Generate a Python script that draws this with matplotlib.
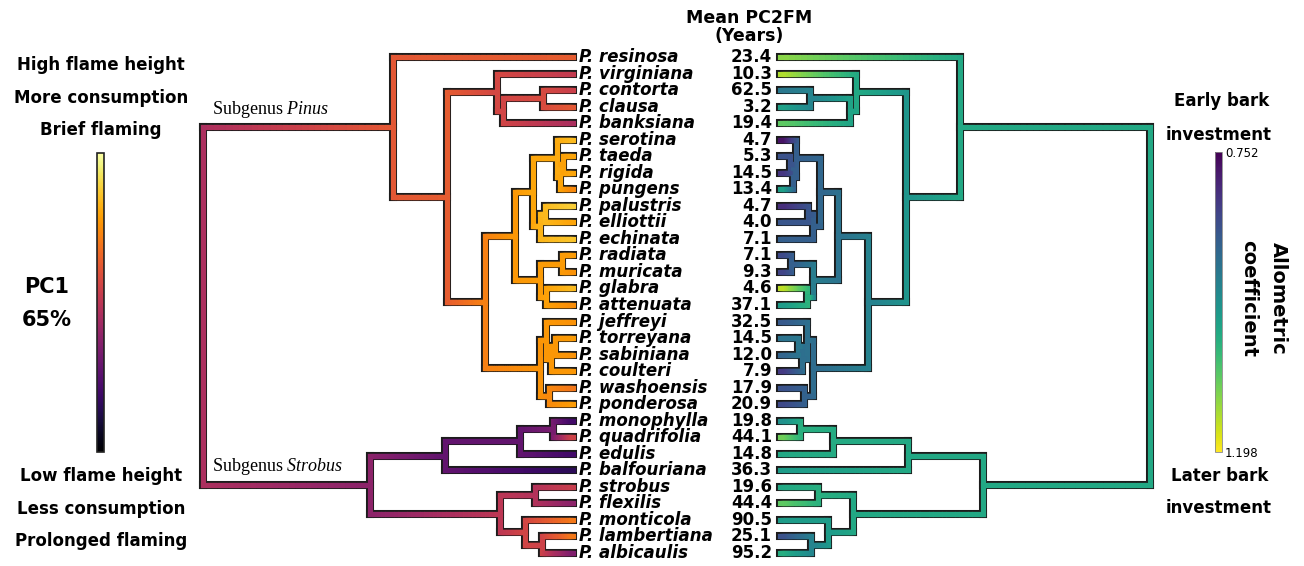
import numpy as np
import matplotlib.pyplot as plt
from matplotlib.collections import LineCollection
from matplotlib.colors import Normalize
from matplotlib.cm import ScalarMappable

plt.rcParams['mathtext.fontset'] = 'custom'
plt.rcParams['mathtext.rm'] = 'Liberation Serif'
plt.rcParams['mathtext.it'] = 'Liberation Serif:italic'

species = ['resinosa', 'virginiana', 'contorta', 'clausa', 'banksiana',
           'serotina', 'taeda', 'rigida', 'pungens', 'palustris', 'elliottii',
           'echinata', 'radiata', 'muricata', 'glabra', 'attenuata',
           'jeffreyi', 'torreyana', 'sabiniana', 'coulteri', 'washoensis',
           'ponderosa', 'monophylla', 'quadrifolia', 'edulis', 'balfouriana',
           'strobus', 'flexilis', 'monticola', 'lambertiana', 'albicaulis']

pc2fm = [23.4, 10.3, 62.5, 3.2, 19.4, 4.7, 5.3, 14.5, 13.4, 4.7, 4.0, 7.1,
         7.1, 9.3, 4.6, 37.1, 32.5, 14.5, 12.0, 7.9, 17.9, 20.9, 19.8, 44.1,
         14.8, 36.3, 19.6, 44.4, 90.5, 25.1, 95.2]

# PC1 scores, rescaled to 0-1
pc1 = [0.63, 0.52, 0.54, 0.62, 0.46, 0.84, 0.80, 0.80, 0.74, 0.88, 0.80,
       0.86, 0.78, 0.76, 0.84, 0.75, 0.76, 0.78, 0.76, 0.77, 0.70, 0.78,
       0.20, 0.55, 0.20, 0.15, 0.53, 0.38, 0.70, 0.70, 0.35]

allometric = [1.118, 1.144, 0.930, 1.006, 1.087, 0.774, 0.864, 0.819, 1.006,
              0.810, 0.872, 0.886, 0.850, 0.841, 1.153, 0.997, 0.877, 0.921,
              0.895, 0.828, 0.864, 0.850, 0.975, 1.100, 1.020, 0.997, 1.020,
              1.087, 0.997, 0.864, 1.029]

# internal nodes: name, child, child, age (root = 1), PC1, allometric coefficient
clades = [
    ('cc', 'contorta', 'clausa', 0.081, 0.58, 0.953),
    ('ccb', 'cc', 'banksiana', 0.189, 0.56, 1.011),
    ('vir', 'virginiana', 'ccb', 0.205, 0.57, 1.020),
    ('tr', 'taeda', 'rigida', 0.027, 0.79, 0.864),
    ('trp', 'tr', 'pungens', 0.035, 0.80, 0.886),
    ('ser', 'serotina', 'trp', 0.043, 0.81, 0.886),
    ('pe', 'palustris', 'elliottii', 0.076, 0.84, 0.872),
    ('pee', 'pe', 'echinata', 0.089, 0.83, 0.886),
    ('aus', 'ser', 'pee', 0.108, 0.80, 0.899),
    ('rm', 'radiata', 'muricata', 0.030, 0.78, 0.886),
    ('ga', 'glabra', 'attenuata', 0.073, 0.79, 1.042),
    ('att', 'rm', 'ga', 0.089, 0.78, 0.939),
    ('D', 'aus', 'att', 0.157, 0.77, 0.921),
    ('ts', 'torreyana', 'sabiniana', 0.049, 0.77, 0.930),
    ('tsc', 'ts', 'coulteri', 0.059, 0.77, 0.913),
    ('jef', 'jeffreyi', 'tsc', 0.073, 0.77, 0.917),
    ('wp', 'washoensis', 'ponderosa', 0.065, 0.74, 0.890),
    ('pon', 'jef', 'wp', 0.089, 0.76, 0.908),
    ('C', 'D', 'pon', 0.238, 0.72, 0.948),
    ('A', 'vir', 'C', 0.341, 0.63, 0.984),
    ('pinus', 'resinosa', 'A', 0.486, 0.62, 1.020),
    ('mq', 'monophylla', 'quadrifolia', 0.054, 0.33, 1.033),
    ('mqe', 'mq', 'edulis', 0.143, 0.28, 1.024),
    ('bal', 'mqe', 'balfouriana', 0.346, 0.28, 1.020),
    ('sf', 'strobus', 'flexilis', 0.103, 0.48, 1.033),
    ('la', 'lambertiana', 'albicaulis', 0.084, 0.55, 0.953),
    ('mla', 'monticola', 'la', 0.130, 0.56, 0.997),
    ('str5', 'sf', 'mla', 0.197, 0.50, 1.020),
    ('strobus_sg', 'bal', 'str5', 0.549, 0.38, 1.020),
    ('root', 'pinus', 'strobus_sg', 1.000, 0.46, 1.020),
]

W, H = 1304, 566
fig = plt.figure(figsize=(W / 100, H / 100), dpi=100)

# node positions
ypos = {s: i for i, s in enumerate(species)}
age = {s: 0.0 for s in species}
for name, a, b, ag, _, _ in clades:
    ypos[name] = (ypos[a] + ypos[b]) / 2
    age[name] = ag


def draw_tree(ax, tip_vals, col, cmap, norm):
    vals = dict(zip(species, tip_vals))
    for c in clades:
        vals[c[0]] = c[col]
    outline, fill, fill_v = [], [], []
    for name, a, b, ag, *_ in clades:
        seg = [(ag, ypos[a]), (ag, ypos[b])]
        outline.append(seg)
        fill.append(seg)
        fill_v.append(vals[name])
    n = 30
    for name, a, b, ag, *_ in clades:
        for ch in (a, b):
            y = ypos[ch]
            outline.append([(ag, y), (age[ch], y)])
            xs = np.linspace(ag, age[ch], n + 1)
            vs = np.linspace(vals[name], vals[ch], n)
            for k in range(n):
                fill.append([(xs[k], y), (xs[k + 1], y)])
                fill_v.append(vs[k])
    lc0 = LineCollection(outline, colors='#1c1c1c', linewidths=5.8,
                         capstyle='projecting')
    lc1 = LineCollection(fill, colors=cmap(norm(np.array(fill_v))),
                         linewidths=3.7, capstyle='projecting')
    for lc in (lc0, lc1):
        lc.set_clip_on(False)
        ax.add_collection(lc)
    ax.set_ylim(len(species) - 1, 0)
    ax.axis('off')


y0, y1 = 57, 553
ax_l = fig.add_axes([203 / W, 1 - y1 / H, 370 / W, (y1 - y0) / H])
ax_r = fig.add_axes([780 / W, 1 - y1 / H, 370 / W, (y1 - y0) / H])

inferno = plt.get_cmap('inferno')
viridis = plt.get_cmap('viridis')
norm_pc = Normalize(0, 1)
norm_al = Normalize(0.752, 1.198)

draw_tree(ax_l, pc1, 4, inferno, norm_pc)
ax_l.set_xlim(1, 0)
draw_tree(ax_r, allometric, 5, viridis, norm_al)
ax_r.set_xlim(0, 1)

for i, s in enumerate(species):
    ax_l.annotate('P. ' + s, (0, i), xytext=(6, 0), textcoords='offset pixels',
                  ha='left', va='center', fontsize=12, fontweight='bold',
                  fontstyle='italic', annotation_clip=False)
    ax_r.annotate(f'{pc2fm[i]:.1f}', (0, i), xytext=(-8, 0),
                  textcoords='offset pixels', ha='right', va='center',
                  fontsize=12, fontweight='bold', annotation_clip=False)

# subgenus labels on the stem branches
ax_l.text(0.975, ypos['pinus'] - 0.45, r'Subgenus $Pinus$', ha='left',
          va='bottom', family='Liberation Serif', fontsize=13)
ax_l.text(0.975, ypos['strobus_sg'] - 0.45, r'Subgenus $Strobus$',
          ha='left', va='bottom', family='Liberation Serif', fontsize=13)

bold = dict(fontweight='bold', ha='center', va='center')
fig.text(749 / W, 1 - 18 / H, 'Mean PC2FM', fontsize=12.5, **bold)
fig.text(749 / W, 1 - 36 / H, '(Years)', fontsize=12.5, **bold)

for txt, y in [('High flame height', 65), ('More consumption', 98),
               ('Brief flaming', 130), ('Low flame height', 476),
               ('Less consumption', 509), ('Prolonged flaming', 541)]:
    fig.text(101 / W, 1 - y / H, txt, fontsize=12, **bold)
fig.text(47 / W, 1 - 287 / H, 'PC1', fontsize=15, **bold)
fig.text(47 / W, 1 - 320 / H, '65%', fontsize=15, **bold)

for txt, x, y in [('Early bark', 1222, 101), ('investment', 1219, 135),
                  ('Later bark', 1220, 476), ('investment', 1219, 508)]:
    fig.text(x / W, 1 - y / H, txt, fontsize=12, **bold)
fig.text(1278 / W, 1 - 298 / H, 'Allometric', fontsize=14, rotation=270,
         **bold)
fig.text(1249 / W, 1 - 298 / H, 'coefficient', fontsize=14, rotation=270,
         **bold)

# colour bars
cax_l = fig.add_axes([97 / W, 1 - 452 / H, 7 / W, 299 / H])
cb_l = fig.colorbar(ScalarMappable(norm_pc, inferno), cax=cax_l)
cb_l.set_ticks([])
cb_l.outline.set_linewidth(1.2)
cb_l.outline.set_edgecolor('#222222')

cax_r = fig.add_axes([1215 / W, 1 - 452 / H, 7 / W, 300 / H])
cb_r = fig.colorbar(ScalarMappable(norm_al, viridis), cax=cax_r)
cb_r.set_ticks([0.752, 1.198])
cb_r.set_ticklabels(['0.752', '1.198'])
cax_r.invert_yaxis()
cax_r.tick_params(length=0, pad=2, labelsize=8.5)
cb_r.outline.set_linewidth(0.6)
cb_r.outline.set_edgecolor('#888888')

fig.savefig('out.png', dpi=100)
